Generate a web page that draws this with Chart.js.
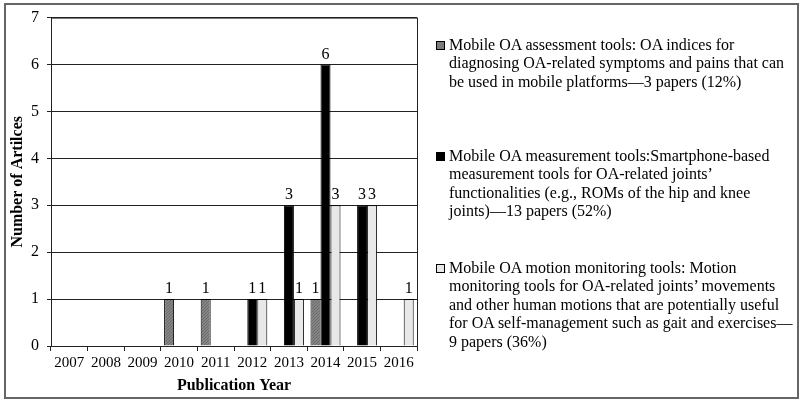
<!DOCTYPE html>
<html>
<head>
<meta charset="utf-8">
<script src="https://cdn.jsdelivr.net/npm/chart.js@4.4.1/dist/chart.umd.min.js"></script>
<style>
  html, body { margin: 0; padding: 0; background: #fff; }
  #frame { position: absolute; left: 4px; top: 3px; width: 791px; height: 392px; border: 2px solid #666; }
  #chartBox { position: absolute; left: 0; top: 0; width: 425px; height: 401px; }
  #legend { position: absolute; left: 0; top: 0; width: 800px; height: 401px; font-family: "Liberation Serif", "Times New Roman", serif; font-size: 16px; line-height: 18.4px; color: #000; }
  .item { position: absolute; left: 449px; white-space: nowrap; }
  .swatch { position: absolute; left: -13px; top: 5px; width: 7px; height: 7px; border: 1px solid #000; }
</style>
</head>
<body>
<div id="frame"></div>
<div id="chartBox"><canvas id="articlesChart"></canvas></div>
<div id="legend"></div>
<script>
const years = ['2007', '2008', '2009', '2010', '2011', '2012', '2013', '2014', '2015', '2016'];
const assessmentTools = [0, 0, 0, 1, 1, 0, 0, 1, 0, 0];
const measurementTools = [0, 0, 0, 0, 0, 1, 3, 6, 3, 0];
const motionTools = [0, 0, 0, 0, 0, 1, 1, 3, 3, 1];
const yTicks = [0, 1, 2, 3, 4, 5, 6, 7];

const legendLines = [
  ['Mobile OA assessment tools: OA indices for', 'diagnosing OA-related symptoms and pains that can', 'be used in mobile platforms\u20143 papers (12%)'],
  ['Mobile OA measurement tools:Smartphone-based', 'measurement tools for OA-related joints\u2019', 'functionalities (e.g., ROMs of the hip and knee', 'joints)\u201413 papers (52%)'],
  ['Mobile OA motion monitoring tools: Motion', 'monitoring tools for OA-related joints\u2019 movements', 'and other human motions that are potentially useful', 'for OA self-management such as gait and exercises\u2014', '9 papers (36%)']
];
const legendTops = [36, 147, 259];

// gray hatch for the assessment bars
function hatchPattern() {
  const c = document.createElement('canvas');
  c.width = 3; c.height = 3;
  const g = c.getContext('2d');
  g.fillStyle = '#858585';
  g.fillRect(0, 0, 3, 3);
  g.fillStyle = '#6a6a6a';
  g.fillRect(0, 2, 1, 1);
  g.fillRect(1, 1, 1, 1);
  g.fillRect(2, 0, 1, 1);
  return g.createPattern(c, 'repeat');
}

const serif = '"Liberation Serif", "Times New Roman", serif';
Chart.defaults.color = '#000';
Chart.defaults.font.family = serif;

const barLabels = {
  id: 'barLabels',
  afterDatasetsDraw(chart) {
    const ctx = chart.ctx;
    ctx.save();
    ctx.font = '16px ' + serif;
    ctx.fillStyle = '#000';
    ctx.textAlign = 'center';
    ctx.textBaseline = 'alphabetic';
    chart.data.datasets.forEach((ds, i) => {
      chart.getDatasetMeta(i).data.forEach((bar, j) => {
        if (ds.data[j] > 0) ctx.fillText(ds.data[j], bar.x, bar.y - 6);
      });
    });
    ctx.restore();
  }
};

const plotFrame = {
  id: 'plotFrame',
  afterDraw(chart) {
    const a = chart.chartArea;
    const ctx = chart.ctx;
    ctx.save();
    ctx.strokeStyle = '#222';
    ctx.lineWidth = 1;
    ctx.strokeRect(a.left + 0.5, a.top + 0.5, a.right - a.left, a.bottom - a.top);
    ctx.restore();
  }
};

const ctx = document.getElementById('articlesChart').getContext('2d');
const chart = new Chart(ctx, {
  type: 'bar',
  data: {
    labels: years,
    datasets: [{
      label: 'Mobile OA assessment tools',
      data: assessmentTools,
      backgroundColor: hatchPattern(),
      legendColor: '#7c7c7c',
      borderColor: '#000',
      borderWidth: 1
    }, {
      label: 'Mobile OA measurement tools',
      data: measurementTools,
      backgroundColor: '#000',
      legendColor: '#000',
      borderColor: '#000',
      borderWidth: 1
    }, {
      label: 'Mobile OA motion monitoring tools',
      data: motionTools,
      backgroundColor: '#e8e8e8',
      legendColor: '#e8e8e8',
      borderColor: '#000',
      borderWidth: 1
    }]
  },
  options: {
    responsive: true,
    maintainAspectRatio: false,
    animation: false,
    datasets: { bar: { categoryPercentage: 0.82, barPercentage: 1.0 } },
    layout: { padding: { top: 16, right: 8, left: 0, bottom: 0 } },
    plugins: { legend: { display: false }, tooltip: { enabled: false } },
    scales: {
      x: {
        afterFit: s => { s.height = 55; },
        grid: { drawOnChartArea: false, drawTicks: true, tickLength: 5, color: '#222' },
        border: { color: '#222' },
        ticks: { font: { size: 15 }, padding: 3, maxRotation: 0 },
        title: { display: true, text: 'Publication Year', font: { size: 16, weight: 'bold' }, padding: { top: 0, bottom: 6 } }
      },
      y: {
        min: 0,
        max: 7,
        afterFit: s => { s.width = 51; },
        afterBuildTicks: s => { s.ticks = yTicks.map(v => ({ value: v })); },
        grid: { color: '#222', tickLength: 4 },
        border: { color: '#222' },
        ticks: { font: { size: 16 }, padding: 8 },
        title: { display: true, text: 'Number of Artilces', font: { size: 16, weight: 'bold' }, padding: { top: 8, bottom: 0 } }
      }
    }
  },
  plugins: [barLabels, plotFrame]
});

// legend built from the datasets
const legend = document.getElementById('legend');
chart.data.datasets.forEach((ds, i) => {
  const item = document.createElement('div');
  item.className = 'item';
  item.style.top = legendTops[i] + 'px';
  item.innerHTML = '<span class="swatch" style="background:' + ds.legendColor + '"></span>' + legendLines[i].join('<br>');
  legend.appendChild(item);
});
</script>
</body>
</html>
